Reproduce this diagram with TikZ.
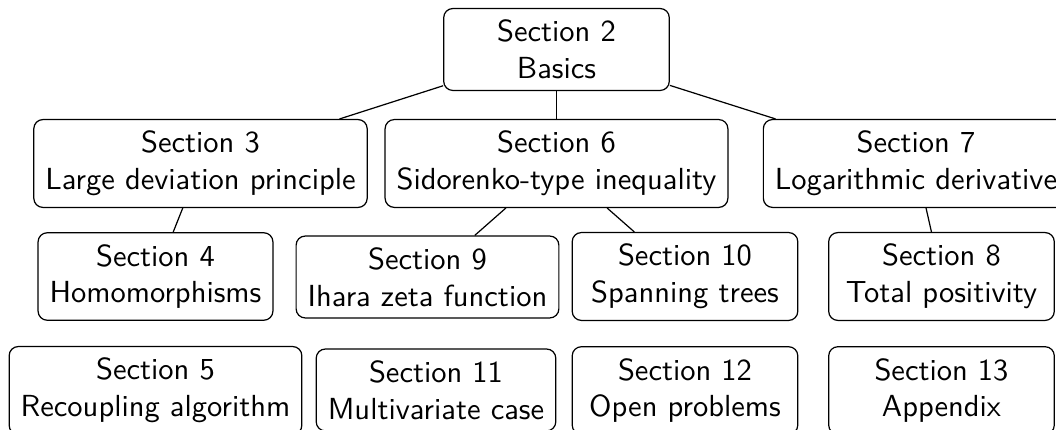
\documentclass[tikz,border=0pt]{standalone}
\usepackage{amsmath}
\usetikzlibrary{positioning}

\begin{document}
\begin{tikzpicture}[x=0.328pt, y=-0.328pt,
        sect/.style={draw, rounded corners=3pt, align=center, font=\sffamily,
          inner sep=3.8pt, minimum width=74pt}
        ]
      \useasboundingbox (0,0) rectangle (1056,430);
      \node [sect] (s2) at (556.5,49.5) {Section 2\\Basics};
      \node [sect] (s3) at (200.5,163.5) {Section 3\\Large deviation principle};
      \node [sect] (s6) at (556.5,163.5) {Section 6\\Sidorenko-type inequality};
      \node [sect] (s7) at (916,163.5) {Section 7\\Logarithmic derivative};
      \node [sect] (s4) at (155.5,276.5) {Section 4\\Homomorphisms};
      \node [sect] (s9) at (427.5,277) {Section 9\\Ihara zeta function};
      \node [sect] (s10) at (685,276.5) {Section 10\\Spanning trees};
      \node [sect] (s8) at (941.5,276.5) {Section 8\\Total positivity};
      \node [sect] (s5) at (155.5,390.5) {Section 5\\Recoupling algorithm};
      \node [sect] (s11) at (436,390) {Section 11\\Multivariate case};
      \node [sect] (s12) at (685,390.5) {Section 12\\Open problems};
      \node [sect] (s13) at (941.5,390.5) {Section 13\\Appendix};
      \draw (s2) -- (s3);
      \draw (s2) -- (s6);
      \draw (s2) -- (s7);
      \draw (s3) -- (s4);
      \draw (s6) -- (s9);
      \draw (s6) -- (s10);
      \draw (s7) -- (s8);
    \end{tikzpicture}
\end{document}
